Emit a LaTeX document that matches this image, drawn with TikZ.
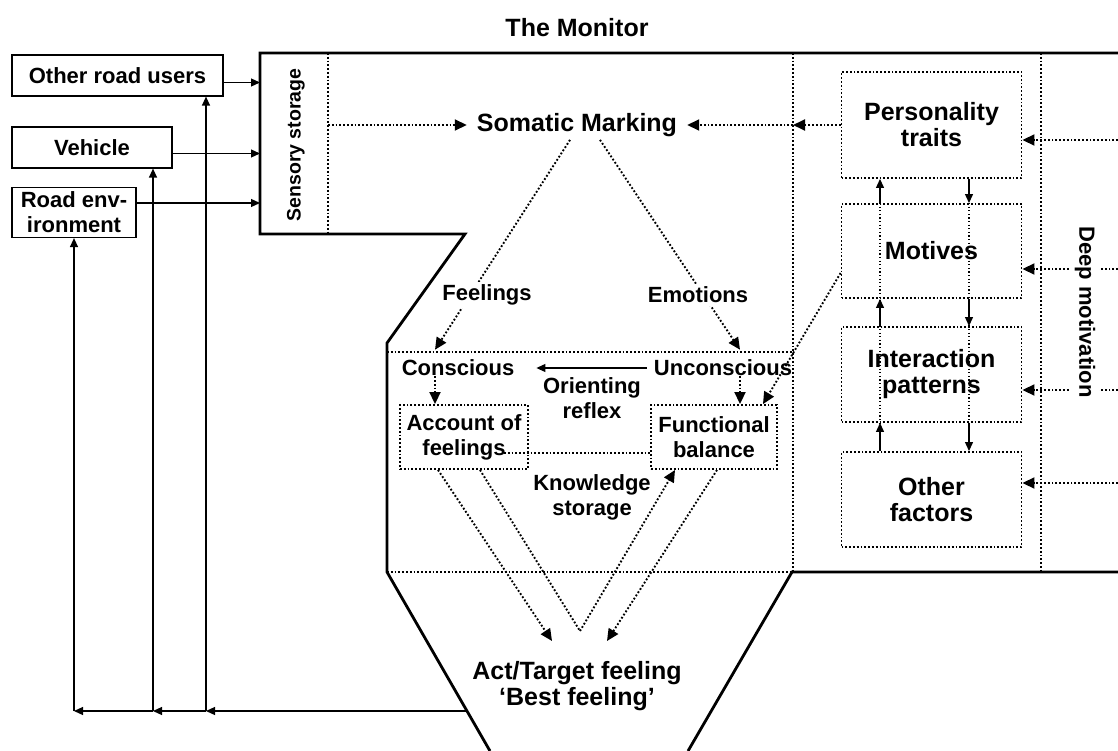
\documentclass[tikz,border=0pt]{standalone}
\usepackage{fontspec}
\setmainfont{Liberation Sans}
\usetikzlibrary{arrows.meta,calc}
\begin{document}
\begin{tikzpicture}[x=1pt,y=-1pt,
  smalltext/.style={font=\fontsize{22}{25}\selectfont\bfseries, align=center, inner sep=0pt},
  bigtext/.style={font=\fontsize{25}{26}\selectfont\bfseries, align=center, inner sep=0pt},
  outline/.style={line width=2.8pt, line join=miter},
  dotline/.style={line width=1.9pt, dash pattern=on 1.8pt off 2.0pt},
  thindots/.style={line width=1.2pt, dash pattern=on 1.2pt off 2.4pt},
  solidbox/.style={draw, line width=1.2pt, smalltext},
  dotbox/.style={draw, dotline, bigtext},
  dotsmallbox/.style={draw, dotline, smalltext},
  thinarrow/.style={line width=1.2pt, -{Triangle[length=9pt,width=8pt]}},
  dotarrow/.style={dotline, -{Triangle[length=12pt,width=11pt]}},
  lab/.style={smalltext, fill=white, inner sep=3pt}]
\useasboundingbox (0,0) rectangle (1118,751);

% ---- monitor outline and dividers
\draw[outline] (1118,53) -- (260,53) -- (260,234) -- (465,234) -- (387,343) -- (387,572) -- (490,751);
\draw[outline] (688,751) -- (792,572) -- (1118,572);
\draw[dotline] (328,53) -- (328,234);
\draw[dotline] (793,53) -- (793,572);
\draw[dotline] (1041,53) -- (1041,570);
\draw[dotline] (387,352) -- (793,352);
\draw[dotline] (387,572) -- (792,572);

% ---- coordinates
\coordinate (ssL) at (260,0);
\coordinate (ssR) at (328,0);
\coordinate (divR) at (793,125);
\coordinate (xu) at (880,0);
\coordinate (xd) at (969,0);
\coordinate (cx) at (435,0);
\coordinate (ux) at (740,0);
\coordinate (fx) at (763,0);
\coordinate (vap) at (580,631);
\coordinate (tipL) at (552,641);
\coordinate (tipR) at (607,641);
\coordinate (r0) at (467,711);
\coordinate (r1) at (206,711);
\coordinate (r2) at (153,711);
\coordinate (r3) at (74,711);
\coordinate (e1) at (1118,140);
\coordinate (e2) at (1118,269);
\coordinate (e3) at (1118,390);
\coordinate (e4) at (1118,483);

% ---- nodes
\node[bigtext] (title) at (577,28) {The Monitor};
\node[solidbox, minimum width=211pt, minimum height=41pt] (oru) at (117.5,75.5) {Other road users};
\node[solidbox, minimum width=160pt, minimum height=41pt] (veh) at (92,147.5) {Vehicle};
\node[solidbox, minimum width=124pt, minimum height=50pt] (road) at (74,212.5) {Road env-\\ironment};
\node[smalltext, font=\fontsize{19.5}{22}\selectfont\bfseries, rotate=90] (ss) at (296,145) {Sensory storage};
\node[bigtext, inner xsep=10pt, inner ysep=3pt] (sm) at (577,125) {Somatic Marking};

\node[dotbox, minimum width=180pt, minimum height=106pt] (pt) at (931.5,125) {Personality\\traits};
\node[dotbox, minimum width=180pt, minimum height=94pt] (mot) at (931.5,251) {Motives};
\node[dotbox, minimum width=180pt, minimum height=95pt] (ip) at (931.5,374.5) {Interaction\\patterns};
\node[dotbox, minimum width=180pt, minimum height=95pt] (of) at (931.5,499.5) {Other\\factors};

\node[smalltext] (con) at (458,368) {Conscious};
\node[smalltext] (uncon) at (723,368) {Unconscious};
\node[smalltext] (orient) at (592,398) {Orienting\\reflex};
\node[dotsmallbox, minimum width=128pt, minimum height=64pt] (acc) at (464,437) {Account of\\feelings};
\node[dotsmallbox, minimum width=126pt, minimum height=64pt] (fb) at (714,437) {Functional\\balance};
\node[smalltext] (know) at (592,497) {Knowledge\\storage};
\node[bigtext] (act) at (577,686) {Act/Target feeling\\`Best feeling'};

% ---- inputs to sensory storage
\coordinate (a1) at ($(oru.east)+(0,7)$);
\coordinate (a2) at ($(veh.east)+(0,6)$);
\coordinate (a3) at ($(road.east)+(0,-9.5)$);
\draw[thinarrow] (a1) -- (a1 -| ssL);
\draw[thinarrow] (a2) -- (a2 -| ssL);
\draw[thinarrow] (a3) -- (a3 -| ssL);

% ---- return path
\draw[thinarrow] (r0) -- (r1);
\draw[thinarrow] (r1) -- (r2);
\draw[thinarrow] (r2) -- (r3);
\draw[thinarrow] (r1) -- (r1 |- oru.south);
\draw[thinarrow] (r2) -- (r2 |- veh.south);
\draw[thinarrow] (r3) -- (r3 |- road.south);

% ---- somatic marking links
\draw[dotarrow] (sm.west -| ssR) -- (sm.west);
\draw[dotarrow] (pt.west |- divR) -- (divR);
\draw[dotarrow] (divR) -- (sm.east);

% ---- right column
\draw[thinarrow] (pt.south -| xd) -- (mot.north -| xd);
\draw[thinarrow] (mot.north -| xu) -- (pt.south -| xu);
\draw[thinarrow] (mot.south -| xd) -- (ip.north -| xd);
\draw[thinarrow] (ip.north -| xu) -- (mot.south -| xu);
\draw[thinarrow] (ip.south -| xd) -- (of.north -| xd);
\draw[thinarrow] (of.north -| xu) -- (ip.south -| xu);
\draw[thindots] (mot.north -| xu) -- (ip.south -| xu);
\draw[thindots] (mot.north -| xd) -- (ip.south -| xd);
\draw[dotarrow] (e1) -- (e1 -| pt.east);
\draw[dotarrow] (e2) -- (e2 -| mot.east);
\draw[dotarrow] (e3) -- (e3 -| ip.east);
\draw[dotarrow] (e4) -- (e4 -| of.east);

% ---- feelings / emotions
\draw[dotarrow] ($(sm.south)+(-7,0)$) -- ($(con.north -| cx)+(0,-10)$);
\draw[dotarrow] ($(sm.south)+(23,0)$) -- ($(con.north -| ux)+(0,-10)$);
\draw[thinarrow] ($(uncon.west)+(-7,0)$) -- ($(con.east)+(22,0)$);
\draw[dotarrow] (con.south -| cx) -- (acc.north -| cx);
\draw[dotarrow] (uncon.south -| ux) -- (fb.north -| ux);
\draw[dotarrow] ($(mot.west)+(0,22)$) -- (fb.north -| fx);
\draw[dotline] ($(acc.east)+(-25,16)$) -- ($(fb.west)+(0,16)$);

% ---- to act/target feeling
\draw[dotline] ($(acc.south)+(16,0)$) -- (vap);
\draw[dotarrow] (vap) -- ($(fb.south)+(-39,0)$);
\draw[dotarrow] ($(acc.south)+(-26,0)$) -- (tipL);
\draw[dotarrow] ($(fb.south)+(3,0)$) -- (tipR);

% ---- labels over lines
\node[lab] (feel) at (487,295) {Feelings};
\node[lab] (emo) at (698,295) {Emotions};
\node[smalltext, fill=white, inner sep=4pt, rotate=-90] (deep) at (1085,312) {Deep motivation};
\end{tikzpicture}
\end{document}
